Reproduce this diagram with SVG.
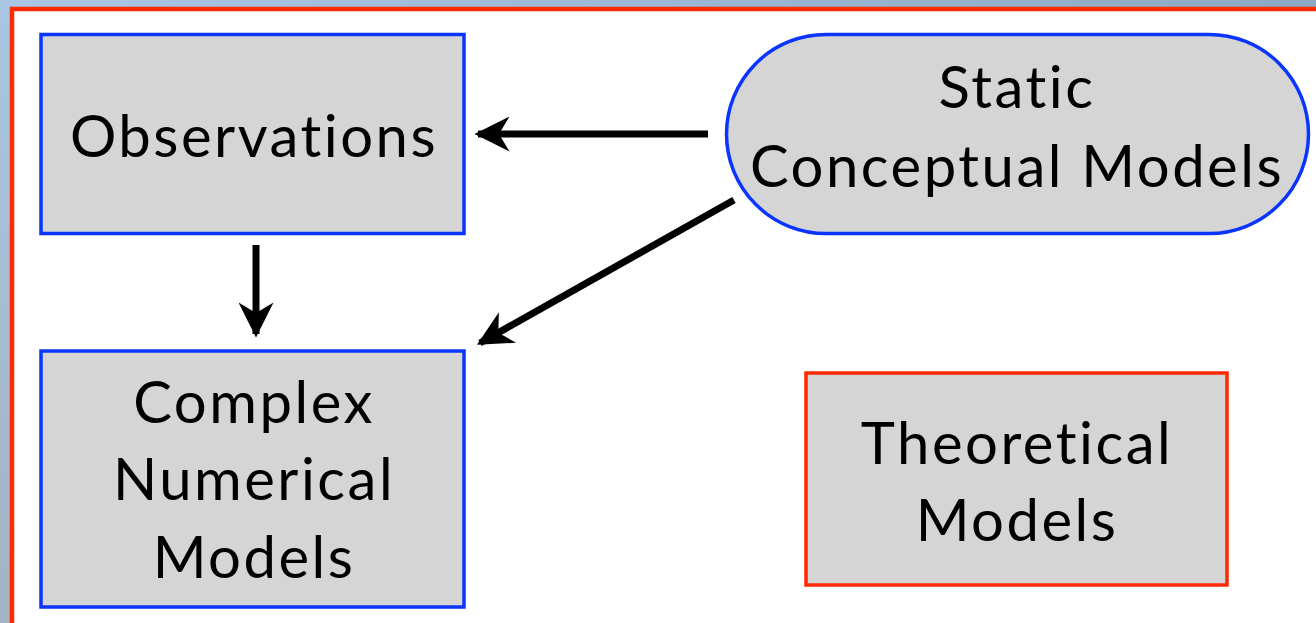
<svg xmlns="http://www.w3.org/2000/svg" width="1316" height="623" viewBox="0 0 1316 623">
<defs>
<linearGradient id="bgTop" x1="0" y1="0" x2="1" y2="0">
<stop offset="0" stop-color="#a9c6e2"/><stop offset="1" stop-color="#8fa9c4"/>
</linearGradient>
<linearGradient id="bgLeft" x1="0" y1="0" x2="0" y2="1">
<stop offset="0" stop-color="#a9c6e2"/><stop offset="1" stop-color="#a3b3c3"/>
</linearGradient>
<marker id="ah" viewBox="0 0 10 10" refX="9" refY="5" markerWidth="5.5" markerHeight="5" markerUnits="strokeWidth" orient="auto">
<path d="M10,5 L0,0 L3,5 L0,10 Z" fill="#000"/>
</marker>
<style>
.node{fill:#d5d5d5;stroke-width:3.5}
.blue{stroke:#0a34ff}
.red{stroke:#ff2a00}
.lbl{font-family:Lato,"Open Sans",sans-serif;font-size:58px;letter-spacing:2.5px;font-variant-ligatures:none;fill:#000;text-anchor:middle}
.conn{stroke:#000;stroke-width:7;fill:none;marker-end:url(#ah)}
</style>
</defs>
<rect x="0" y="0" width="1316" height="623" fill="url(#bgLeft)"/>
<rect x="0" y="0" width="1316" height="9" fill="url(#bgTop)"/>
<rect x="12" y="9" width="1320" height="630" fill="#fff" stroke="#ff2a00" stroke-width="4.5"/>
<g id="observations">
<rect class="node blue" x="41" y="34.5" width="423" height="199"/>
<text class="lbl" x="254" y="157">Observations</text>
</g>
<g id="static">
<rect class="node blue" x="726.5" y="34.5" width="582" height="199" rx="99.5"/>
<text class="lbl" x="1017" y="108">Static</text>
<text class="lbl" x="1017" y="187">Conceptual Models</text>
</g>
<g id="complex">
<rect class="node blue" x="41" y="351" width="423" height="256"/>
<text class="lbl" x="254" y="423">Complex</text>
<text class="lbl" x="254" y="500">Numerical</text>
<text class="lbl" x="254" y="578">Models</text>
</g>
<g id="theoretical">
<rect class="node red" x="806" y="373" width="421" height="212"/>
<text class="lbl" x="1017" y="464">Theoretical</text>
<text class="lbl" x="1017" y="541">Models</text>
</g>
<g id="connectors">
<line class="conn" x1="708" y1="134" x2="478" y2="134"/>
<line class="conn" x1="734" y1="200" x2="480" y2="343"/>
<line class="conn" x1="256" y1="245" x2="256" y2="334"/>
</g>
</svg>
